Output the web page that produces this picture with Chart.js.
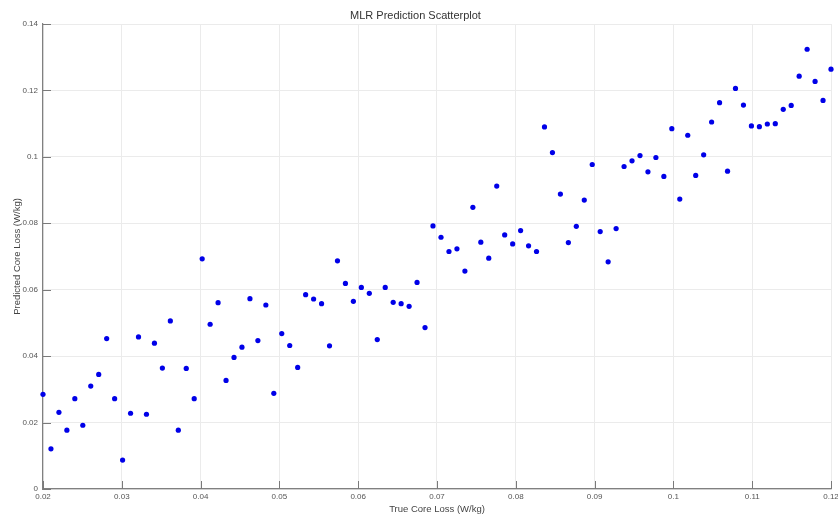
<!DOCTYPE html>
<html>
<head>
<meta charset="utf-8">
<script src="https://cdn.jsdelivr.net/npm/chart.js@4.4.1/dist/chart.umd.min.js"></script>
<style>
  html, body { margin: 0; padding: 0; background: #fff; }
  #wrap { width: 838px; height: 515px; }
</style>
</head>
<body>
<div id="wrap"><canvas id="scatter"></canvas></div>
<script>
// valores (true vs predicted core loss, W/kg)
const trueLoss = [
  0.02000, 0.02101, 0.02202, 0.02303, 0.02404, 0.02505, 0.02606, 0.02707, 0.02808, 0.02909,
  0.03010, 0.03111, 0.03212, 0.03313, 0.03414, 0.03515, 0.03616, 0.03717, 0.03818, 0.03919,
  0.04020, 0.04121, 0.04222, 0.04323, 0.04424, 0.04525, 0.04626, 0.04727, 0.04828, 0.04929,
  0.05030, 0.05131, 0.05232, 0.05333, 0.05434, 0.05535, 0.05636, 0.05737, 0.05838, 0.05939,
  0.06040, 0.06141, 0.06242, 0.06343, 0.06444, 0.06545, 0.06646, 0.06747, 0.06848, 0.06949,
  0.07051, 0.07152, 0.07253, 0.07354, 0.07455, 0.07556, 0.07657, 0.07758, 0.07859, 0.07960,
  0.08061, 0.08162, 0.08263, 0.08364, 0.08465, 0.08566, 0.08667, 0.08768, 0.08869, 0.08970,
  0.09071, 0.09172, 0.09273, 0.09374, 0.09475, 0.09576, 0.09677, 0.09778, 0.09879, 0.09980,
  0.10081, 0.10182, 0.10283, 0.10384, 0.10485, 0.10586, 0.10687, 0.10788, 0.10889, 0.10990,
  0.11091, 0.11192, 0.11293, 0.11394, 0.11495, 0.11596, 0.11697, 0.11798, 0.11899, 0.12000
];
const predictedLoss = [
  0.0285, 0.0121, 0.0231, 0.0177, 0.0272, 0.0192, 0.0310, 0.0345, 0.0453, 0.0272,
  0.0087, 0.0228, 0.0458, 0.0225, 0.0439, 0.0364, 0.0506, 0.0177, 0.0363, 0.0272,
  0.0693, 0.0496, 0.0561, 0.0327, 0.0396, 0.0427, 0.0573, 0.0447, 0.0554, 0.0288,
  0.0468, 0.0432, 0.0366, 0.0585, 0.0572, 0.0558, 0.0431, 0.0687, 0.0619, 0.0565,
  0.0607, 0.0589, 0.0450, 0.0607, 0.0562, 0.0558, 0.0550, 0.0622, 0.0486, 0.0792,
  0.0758, 0.0715, 0.0723, 0.0656, 0.0848, 0.0743, 0.0695, 0.0912, 0.0765, 0.0738,
  0.0778, 0.0732, 0.0715, 0.1090, 0.1013, 0.0888, 0.0742, 0.0791, 0.0870, 0.0977,
  0.0775, 0.0684, 0.0784, 0.0971, 0.0988, 0.1004, 0.0955, 0.0998, 0.0941, 0.1085,
  0.0873, 0.1065, 0.0944, 0.1006, 0.1105, 0.1163, 0.0957, 0.1206, 0.1156, 0.1093,
  0.1091, 0.1099, 0.1100, 0.1143, 0.1155, 0.1243, 0.1324, 0.1227, 0.1170, 0.1264
];
const xRange = [0.02, 0.12];
const yRange = [0, 0.14];
const xStep = 0.01;
const yStep = 0.02;

const FONT = '"Liberation Sans", Arial, Helvetica, sans-serif';

// formato tipo matlab: 0.1 en vez de 0.10
const fmt = v => String(parseFloat(Number(v).toFixed(4)));

// marcas de graduacion hacia adentro
const innerTicks = {
  id: 'innerTicks',
  afterDatasetsDraw(chart) {
    const { ctx, chartArea, scales } = chart;
    const len = 8;
    ctx.save();
    ctx.strokeStyle = '#7a7a7a';
    ctx.lineWidth = 1;
    scales.x.ticks.forEach(t => {
      const px = Math.round(scales.x.getPixelForValue(t.value)) + 0.5;
      ctx.beginPath();
      ctx.moveTo(px, chartArea.bottom);
      ctx.lineTo(px, chartArea.bottom - len);
      ctx.stroke();
    });
    scales.y.ticks.forEach(t => {
      const py = Math.round(scales.y.getPixelForValue(t.value)) + 0.5;
      ctx.beginPath();
      ctx.moveTo(chartArea.left, py);
      ctx.lineTo(chartArea.left + len, py);
      ctx.stroke();
    });
    ctx.restore();
  }
};

const points = trueLoss.map((x, i) => ({ x, y: predictedLoss[i] }));

new Chart(document.getElementById('scatter'), {
  type: 'scatter',
  data: {
    datasets: [{
      label: 'MLR',
      data: points,
      backgroundColor: '#0000e8',
      borderColor: '#0000e8',
      pointRadius: 2.6,
      pointHoverRadius: 2.6,
      borderWidth: 0,
      clip: false
    }]
  },
  options: {
    responsive: true,
    maintainAspectRatio: false,
    animation: false,
    layout: { padding: { left: 0, right: 7, top: 0, bottom: 0 } },
    plugins: {
      legend: { display: false },
      tooltip: { enabled: false },
      title: {
        display: true,
        text: 'MLR Prediction Scatterplot',
        color: '#333',
        font: { family: FONT, size: 11, weight: 'normal' },
        padding: { top: 9.4, bottom: 1.4 }
      }
    },
    scales: {
      x: {
        type: 'linear',
        min: xRange[0],
        max: xRange[1],
        afterFit: s => { s.height = 26; s.paddingLeft = 0; s.paddingRight = 0; },
        ticks: {
          stepSize: xStep,
          autoSkip: false,
          maxRotation: 0,
          padding: 3,
          color: '#555',
          font: { family: FONT, size: 8 },
          callback: fmt
        },
        grid: { color: '#ebebeb', drawTicks: false },
        border: { color: '#808080', width: 1.2 },
        title: {
          display: true,
          text: 'True Core Loss (W/kg)',
          color: '#444',
          font: { family: FONT, size: 9.5 },
          padding: { top: 0, bottom: 0 }
        }
      },
      y: {
        type: 'linear',
        min: yRange[0],
        max: yRange[1],
        afterFit: s => { s.width = 43; s.paddingTop = 0; s.paddingBottom = 0; },
        ticks: {
          stepSize: yStep,
          autoSkip: false,
          padding: 5,
          color: '#555',
          font: { family: FONT, size: 8 },
          callback: fmt
        },
        grid: { color: '#ebebeb', drawTicks: false },
        border: { color: '#808080', width: 1.2 },
        title: {
          display: true,
          text: 'Predicted Core Loss (W/kg)',
          color: '#444',
          font: { family: FONT, size: 9.5 },
          padding: { top: 12, bottom: 0 }
        }
      }
    }
  },
  plugins: [innerTicks]
});
</script>
</body>
</html>
